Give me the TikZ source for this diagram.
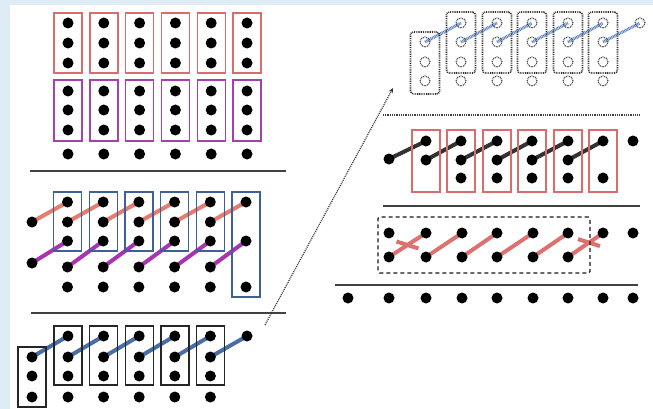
\documentclass[tikz,border=0pt]{standalone}
\usetikzlibrary{arrows.meta,backgrounds}
\definecolor{bgblue}{RGB}{222,236,246}
\definecolor{redbox}{RGB}{218,108,108}
\definecolor{purplebox}{RGB}{165,65,175}
\definecolor{bluebox}{RGB}{62,96,150}
\definecolor{redline}{RGB}{228,124,112}
\definecolor{fredline}{RGB}{222,112,112}
\definecolor{purpleline}{RGB}{168,52,178}
\definecolor{blueline}{RGB}{72,110,165}
\definecolor{dblue}{RGB}{90,130,192}
\definecolor{sepgray}{RGB}{65,65,65}
\begin{document}
\begin{tikzpicture}[x=1pt,y=-1pt,
  dot/.style={circle,fill=black,inner sep=0pt,minimum size=11pt},
  odot/.style={circle,draw=black!80,line width=1.1pt,dash pattern=on 0.9pt off 0.9pt,inner sep=0pt,minimum size=10pt},
  colbox/.style={rectangle,inner sep=0pt,minimum width=28pt,line width=1.4pt},
  dotbox/.style={rectangle,inner sep=0pt,minimum width=29pt,draw=black!80,dash pattern=on 0.9pt off 0.9pt,line width=1.6pt,rounded corners=3pt},
  sepline/.style={draw=sepgray,line width=1.8pt},
  link/.style={line width=4pt},
  blink/.style={draw=dblue,line width=3pt,dash pattern=on 0.9pt off 0.7pt},
]
\useasboundingbox (0,0) rectangle (653,409);
% ---------- Panel A ----------
\foreach \i/\x in {1/68,2/103.8,3/139.6,4/175.4,5/211.2,6/247} {
  \node[colbox,draw=redbox,minimum height=60pt] (Ar\i) at (\x,43) {};
  \node[colbox,draw=purplebox,minimum height=61pt] (Ap\i) at (\x,110.5) {};
  \foreach \j/\yy in {1/23,2/43,3/63,4/91,5/110,6/130,7/154}
    \node[dot] (A-\i-\j) at (\x,\yy) {};
}
\coordinate (Al1) at (30,171); \coordinate (Al2) at (286,171);
\draw[sepline] (Al1) -- (Al2);
% ---------- Panel B ----------
\node[dot] (B-L1) at (32,222) {};
\node[dot] (B-L2) at (32,263) {};
\foreach \i/\x in {1/67.5,2/103.2,3/138.9,4/174.6,5/210.3} {
  \node[colbox,draw=bluebox,minimum height=59pt] (Bb\i) at (\x,221.5) {};
  \foreach \j/\yy in {1/202,2/222,3/241,4/267,5/287}
    \node[dot] (B-\i-\j) at (\x,\yy) {};
}
\node[colbox,draw=bluebox,minimum height=105pt] (Bb6) at (246,244.5) {};
\node[dot] (B-6-1) at (246,202) {};
\node[dot] (B-6-3) at (246,241) {};
\node[dot] (B-6-5) at (246,287) {};
% ---------- Panel C ----------
\coordinate (Cl1) at (31,313); \coordinate (Cl2) at (286,313);
\draw[sepline] (Cl1) -- (Cl2);
\node[colbox,draw=black!85,minimum height=60pt] (Cb0) at (32,377) {};
\foreach \j/\yy in {2/357,3/376,4/397} \node[dot] (C-0-\j) at (32,\yy) {};
\foreach \i/\x in {1/68,2/103.6,3/139.2,4/174.8,5/210.4} {
  \node[colbox,draw=black!85,minimum height=59pt] (Cb\i) at (\x,355.5) {};
  \foreach \j/\yy in {1/336,2/357,3/376,4/397}
    \node[dot] (C-\i-\j) at (\x,\yy) {};
}
\node[dot] (C-E) at (247,336) {};
% ---------- Panel D ----------
\node[dotbox,minimum height=62pt] (Db0) at (425,63) {};
\foreach \j/\yy in {2/42,3/62,4/81} \node[odot] (D-0-\j) at (425,\yy) {};
\foreach \i/\x in {1/461,2/497,3/532,4/568,5/603} {
  \node[dotbox,minimum height=61pt] (Db\i) at (\x,42.5) {};
  \foreach \j/\yy in {1/23,2/42,3/62,4/81}
    \node[odot] (D-\i-\j) at (\x,\yy) {};
}
\node[odot] (D-E) at (640,23) {};
\coordinate (Ds1) at (383,115); \coordinate (Ds2) at (640,115);
\draw[draw=black!75,line width=1.4pt,dash pattern=on 0.9pt off 0.9pt] (Ds1) -- (Ds2);
% ---------- Panel E ----------
\node[dot] (E-L) at (389,159) {};
\foreach \i/\x in {1/426,2/461,3/497,4/532,5/568,6/603}
  \node[colbox,draw=redbox,minimum height=62pt] (Eb\i) at (\x,161) {};
\foreach \j/\yy in {1/141,2/160} \node[dot] (E-1-\j) at (426,\yy) {};
\foreach \i/\x in {2/461,3/497,4/532,5/568}
  \foreach \j/\yy in {1/141,2/160,3/178} \node[dot] (E-\i-\j) at (\x,\yy) {};
\node[dot] (E-6-1) at (603,141) {};
\node[dot] (E-6-3) at (603,178) {};
\node[dot] (E-E) at (633,141) {};
\coordinate (El1) at (383,206); \coordinate (El2) at (640,206);
\draw[sepline] (El1) -- (El2);
% ---------- Panel F ----------
\node[rectangle,draw=black!90,line width=1.3pt,dash pattern=on 4pt off 3pt,minimum width=212pt,minimum height=56pt,inner sep=0pt,rounded corners=1.5pt] (Fbox) at (484,245) {};
\foreach \i/\x in {1/389,2/426,3/462,4/497,5/533,6/568,7/603,8/633}
  \node[dot] (F-1-\i) at (\x,233) {};
\foreach \i/\x in {1/389,2/426,3/462,4/497,5/533,6/568}
  \node[dot] (F-2-\i) at (\x,257) {};
\coordinate (Fl1) at (335,285); \coordinate (Fl2) at (638,285);
\draw[sepline] (Fl1) -- (Fl2);
\foreach \i/\x in {1/348,2/389,3/426,4/462,5/497,6/533,7/568,8/603,9/633}
  \node[dot] (F-B-\i) at (\x,298) {};
% ---------- Arrow ----------
\coordinate (arrS) at (265,325); \coordinate (arrE) at (393,88);
\draw[draw=black!80,line width=1.2pt,dash pattern=on 1pt off 1pt,-{Stealth[length=5pt,width=4.5pt]}] (arrS) -- (arrE);
% ---------- connectors (behind) ----------
\begin{pgfonlayer}{background}
  \fill[bgblue] (0,0) rectangle (653,409);
  \fill[white] (10,5) rectangle (653,409);
  \foreach \i/\n in {1/2,2/3,3/4,4/5,5/6} {
    \draw[link,draw=redline] (B-\i-2.center) -- (B-\n-1.center);
    \draw[link,draw=purpleline] (B-\i-4.center) -- (B-\n-3.center);
    \draw[link,draw=black!80] (E-\i-2.center) -- (E-\n-1.center);
    \draw[link,draw=fredline] (F-2-\i.center) -- (F-1-\n.center);
  }
  \draw[link,draw=redline] (B-L1.center) -- (B-1-1.center);
  \draw[link,draw=purpleline] (B-L2.center) -- (B-1-3.center);
  \draw[link,draw=black!80] (E-L.center) -- (E-1-1.center);
  \draw[link,draw=fredline] (F-2-6.center) -- (F-1-7.center);
  \draw[link,draw=blueline] (C-0-2.center) -- (C-1-1.center);
  \foreach \i/\n in {1/2,2/3,3/4,4/5}
    \draw[link,draw=blueline] (C-\i-2.center) -- (C-\n-1.center);
  \draw[link,draw=blueline] (C-5-2.center) -- (C-E.center);
  \draw[blink] (D-0-2.center) -- (D-1-1.center);
  \foreach \i/\n in {1/2,2/3,3/4,4/5}
    \draw[blink] (D-\i-2.center) -- (D-\n-1.center);
  \draw[blink] (D-5-2.center) -- (D-E.center);
  % cut marks
  \path (F-2-1.center) -- (F-1-2.center) coordinate[pos=0.5] (X1);
  \path (F-2-6.center) -- (F-1-7.center) coordinate[pos=0.6] (X2);
  \draw[link,draw=fredline] ([shift={(-11,-3.5)}]X1) -- ([shift={(11,3.5)}]X1);
  \draw[link,draw=fredline] ([shift={(-11,-3.5)}]X2) -- ([shift={(11,3.5)}]X2);
\end{pgfonlayer}
\end{tikzpicture}
\end{document}
